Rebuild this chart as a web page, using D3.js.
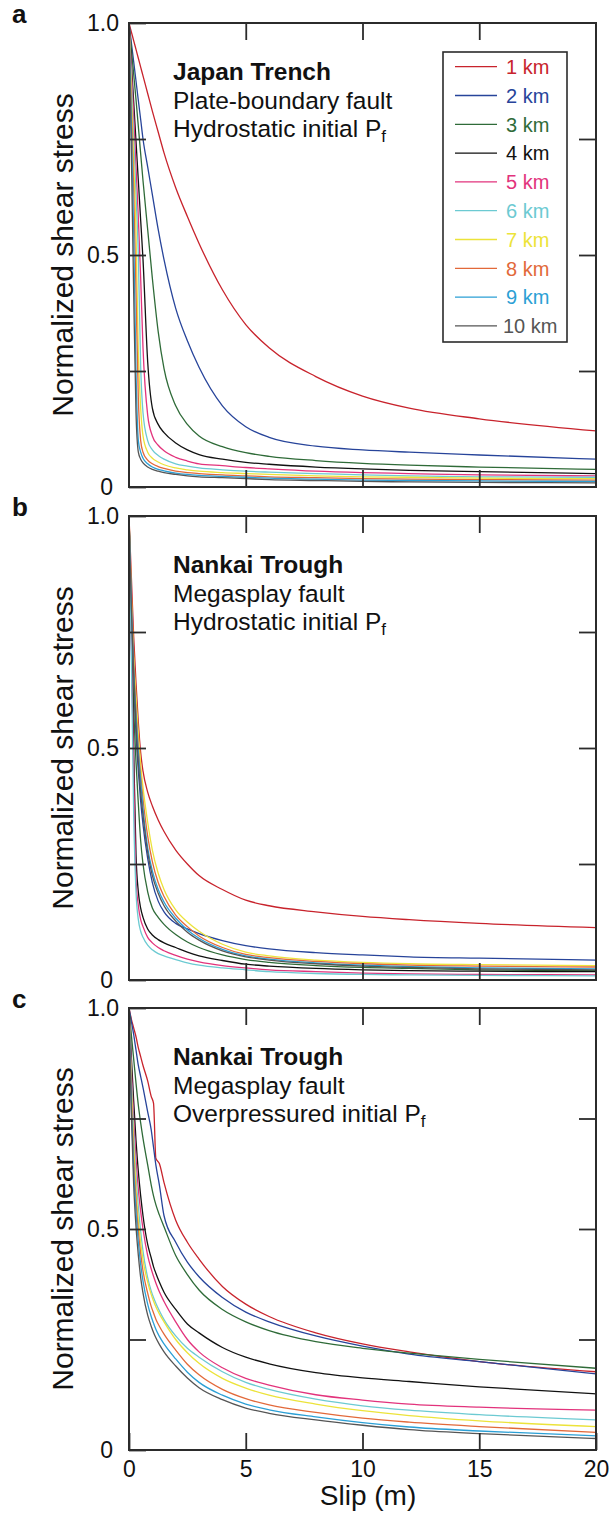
<!DOCTYPE html>
<html>
<head>
<meta charset="utf-8">
<script src="https://cdn.jsdelivr.net/npm/d3@7"></script>
<style>
  body { margin: 0; background: #fff; }
  svg { display: block; font-family: "Liberation Sans", Arial, Helvetica, sans-serif; }
</style>
</head>
<body>
<div id="chart"></div>
<script>
// depths (legend) and colours
const depths = ["1 km", "2 km", "3 km", "4 km", "5 km", "6 km", "7 km", "8 km", "9 km", "10 km"];
const colors = ["#c8232c", "#27449a", "#2f6b38", "#111111", "#e2337c", "#6ccad2", "#ece33a", "#e2693a", "#2b9fd5", "#555555"];

const xTicks = [0, 5, 10, 15, 20];
const yTicks = [0, 0.25, 0.5, 0.75, 1];
const yTickLabels = ["0", "", "0.5", "", "1.0"];

// slip (m) sample points
const slipAB = [0, 0.1, 0.2, 0.3, 0.4, 0.5, 0.6, 0.8, 1, 1.25, 1.5, 2, 2.5, 3, 4, 5, 6, 8, 10, 12, 15, 20];
const slipC = [0, 0.1, 0.2, 0.3, 0.4, 0.5, 0.6, 0.8, 0.95, 1.05, 1.15, 1.3, 1.5, 2, 2.5, 3, 4, 5, 6, 8, 10, 12, 15, 20];

// normalized shear stress, one row per depth (1 km ... 10 km)
const stressA = [
  [1, .981, .962, .943, .924, .905, .886, .848, .81, .765, .72, .645, .583, .525, .425, .35, .3, .238, .196, .17, .147, .121],
  [1, .958, .917, .875, .833, .792, .75, .69, .63, .555, .49, .385, .315, .258, .175, .13, .107, .088, .08, .075, .069, .06],
  [1, .945, .89, .835, .777, .718, .66, .555, .45, .335, .255, .175, .135, .11, .087, .074, .066, .057, .051, .047, .043, .038],
  [1, .915, .83, .745, .66, .575, .49, .27, .17, .135, .117, .095, .08, .07, .06, .053, .049, .043, .039, .036, .033, .029],
  [1, .9, .8, .69, .58, .45, .3, .155, .11, .09, .078, .064, .056, .05, .046, .042, .039, .034, .031, .029, .026, .024],
  [1, .88, .75, .63, .5, .26, .16, .1, .08, .068, .06, .05, .045, .041, .037, .034, .032, .029, .026, .024, .022, .021],
  [1, .85, .7, .55, .29, .17, .11, .075, .062, .054, .048, .041, .037, .034, .031, .029, .027, .024, .022, .021, .019, .018],
  [1, .82, .64, .42, .19, .1, .075, .058, .05, .044, .04, .034, .031, .029, .026, .024, .022, .02, .018, .017, .016, .015],
  [1, .78, .55, .25, .1, .075, .062, .05, .043, .038, .035, .03, .027, .025, .023, .021, .019, .017, .015, .014, .013, .012],
  [1, .72, .42, .16, .075, .06, .052, .043, .038, .034, .031, .027, .024, .022, .02, .018, .016, .014, .012, .011, .01, .009]
];

const stressB = [
  [1, .87, .74, .64, .555, .49, .45, .405, .375, .345, .32, .28, .25, .225, .195, .172, .16, .147, .137, .13, .122, .113],
  [1, .79, .64, .53, .45, .385, .335, .262, .21, .17, .147, .122, .11, .1, .085, .074, .067, .059, .054, .05, .047, .043],
  [1, .77, .59, .47, .38, .3, .25, .19, .155, .135, .12, .098, .082, .07, .054, .044, .038, .031, .027, .025, .022, .02],
  [1, .74, .5, .27, .19, .155, .135, .11, .097, .087, .08, .07, .06, .052, .042, .034, .03, .025, .022, .02, .019, .018],
  [1, .72, .45, .22, .16, .13, .115, .092, .08, .07, .063, .053, .045, .039, .031, .026, .022, .018, .015, .013, .012, .011],
  [1, .7, .36, .19, .13, .105, .092, .075, .065, .057, .052, .044, .037, .032, .026, .022, .018, .014, .012, .011, .01, .009],
  [1, .83, .7, .61, .53, .465, .415, .34, .28, .23, .195, .151, .125, .105, .077, .06, .052, .043, .038, .035, .033, .031],
  [1, .82, .68, .58, .5, .44, .39, .31, .255, .21, .18, .14, .115, .095, .07, .055, .048, .04, .035, .032, .03, .028],
  [1, .81, .67, .57, .49, .43, .37, .285, .235, .195, .168, .133, .108, .09, .066, .052, .045, .037, .032, .029, .026, .024],
  [1, .8, .66, .55, .47, .405, .355, .275, .225, .187, .16, .127, .103, .086, .063, .05, .043, .035, .03, .027, .024, .022]
];

const stressC = [
  [1, .975, .955, .935, .91, .89, .87, .835, .8, .785, .66, .648, .605, .52, .47, .432, .37, .33, .302, .265, .24, .222, .2, .177],
  [1, .97, .94, .905, .87, .845, .82, .765, .725, .685, .645, .6, .53, .47, .425, .392, .345, .312, .29, .258, .235, .217, .2, .172],
  [1, .94, .885, .83, .78, .74, .705, .645, .6, .575, .555, .532, .505, .44, .397, .362, .318, .29, .27, .245, .23, .219, .205, .185],
  [1, .89, .79, .7, .63, .575, .53, .465, .435, .415, .4, .38, .357, .318, .285, .265, .232, .21, .195, .175, .163, .155, .143, .127],
  [1, .86, .75, .66, .59, .54, .5, .44, .41, .393, .378, .358, .336, .29, .25, .222, .186, .162, .147, .125, .113, .104, .097, .09],
  [1, .84, .72, .62, .55, .495, .45, .39, .36, .345, .332, .315, .295, .258, .23, .21, .177, .153, .137, .115, .1, .09, .08, .068],
  [1, .82, .69, .59, .52, .47, .43, .38, .352, .337, .324, .308, .29, .25, .22, .196, .162, .14, .124, .104, .089, .078, .066, .053],
  [1, .8, .66, .565, .495, .445, .405, .355, .325, .31, .296, .28, .262, .226, .194, .17, .137, .116, .102, .085, .072, .063, .053, .04],
  [1, .78, .635, .54, .47, .42, .382, .33, .302, .287, .273, .257, .24, .206, .176, .153, .124, .104, .091, .075, .062, .052, .043, .032],
  [1, .76, .6, .505, .44, .39, .355, .305, .28, .266, .254, .239, .222, .19, .163, .141, .114, .095, .083, .068, .056, .046, .037, .026]
];

const width = 610;
const height = 1540;
const left = 129, right = 596;
const tickLen = 17;
const axisColor = "#2b2b2b";

const svg = d3.select("#chart")
  .append("svg")
  .attr("width", width)
  .attr("height", height);

const x = d3.scaleLinear().domain([0, 20]).range([left, right]);

const panels = [
  { letter: "a", top: 23, bottom: 487, slip: slipAB, values: stressA,
    title: "Japan Trench", lines: ["Plate-boundary fault", "Hydrostatic initial P"], legend: true },
  { letter: "b", top: 516, bottom: 980, slip: slipAB, values: stressB,
    title: "Nankai Trough", lines: ["Megasplay fault", "Hydrostatic initial P"] },
  { letter: "c", top: 1008, bottom: 1450, slip: slipC, values: stressC,
    title: "Nankai Trough", lines: ["Megasplay fault", "Overpressured initial P"], xLabels: true }
];

panels.forEach(p => {
  const y = d3.scaleLinear().domain([0, 1]).range([p.bottom, p.top]);
  const g = svg.append("g");

  // curves
  const line = d3.line()
    .x((d, i) => x(p.slip[i]))
    .y(d => y(d))
    .curve(d3.curveMonotoneX);

  g.selectAll("path.curve")
    .data(p.values)
    .enter()
    .append("path")
    .attr("class", "curve")
    .attr("d", d => line(d))
    .attr("fill", "none")
    .attr("stroke", (d, i) => colors[i])
    .attr("stroke-width", 1.3);

  // axes, ticks pointing inward on all four sides
  const styleAxis = sel => {
    sel.select(".domain").remove();
    sel.selectAll("line").attr("stroke", axisColor).attr("stroke-width", 1.8);
    sel.selectAll("text").attr("fill", "#111").style("font-size", "23px");
  };

  g.append("g")
    .attr("transform", `translate(0,${p.bottom})`)
    .call(d3.axisBottom(x).tickValues(p.xLabels ? xTicks : [5, 10, 15])
      .tickSize(-tickLen).tickPadding(11)
      .tickFormat(p.xLabels ? d3.format("d") : ""))
    .call(styleAxis);

  g.append("g")
    .attr("transform", `translate(0,${p.top})`)
    .call(d3.axisTop(x).tickValues([5, 10, 15]).tickSize(-tickLen).tickFormat(""))
    .call(styleAxis);

  g.append("g")
    .attr("transform", `translate(${left},0)`)
    .call(d3.axisLeft(y).tickValues(yTicks).tickSize(-tickLen).tickPadding(10)
      .tickFormat((d, i) => yTickLabels[i]))
    .call(styleAxis)
    .call(sel => sel.selectAll(".tick text").filter(d => d === 0).attr("x", -16));

  g.append("g")
    .attr("transform", `translate(${right},0)`)
    .call(d3.axisRight(y).tickValues([0.25, 0.5, 0.75]).tickSize(-tickLen).tickFormat(""))
    .call(styleAxis);

  g.append("rect")
    .attr("x", left)
    .attr("y", p.top)
    .attr("width", right - left)
    .attr("height", p.bottom - p.top)
    .attr("fill", "none")
    .attr("stroke", axisColor)
    .attr("stroke-width", 2);

  // y label
  g.append("text")
    .attr("transform", `translate(73,${(p.top + p.bottom) / 2}) rotate(-90)`)
    .attr("text-anchor", "middle")
    .style("font-size", "30px")
    .attr("fill", "#111")
    .text("Normalized shear stress");

  // panel letter
  g.append("text")
    .attr("x", 12)
    .attr("y", p.top)
    .style("font-size", "26px")
    .style("font-weight", "bold")
    .attr("fill", "#111")
    .text(p.letter);

  // annotation
  const ann = g.append("g").attr("transform", `translate(173,${p.top + 57})`);
  ann.append("text")
    .style("font-size", "24.5px")
    .style("font-weight", "bold")
    .attr("fill", "#111")
    .text(p.title);
  ann.append("text")
    .attr("y", 28.5)
    .style("font-size", "24.5px")
    .attr("fill", "#111")
    .text(p.lines[0]);
  const t3 = ann.append("text")
    .attr("y", 57)
    .style("font-size", "24.5px")
    .attr("fill", "#111")
    .text(p.lines[1]);
  t3.append("tspan")
    .attr("dy", 5)
    .style("font-size", "17px")
    .text("f");

  // legend
  if (p.legend) {
    const lg = g.append("g");
    lg.append("rect")
      .attr("x", 443).attr("y", 52)
      .attr("width", 124).attr("height", 290)
      .attr("fill", "#fff")
      .attr("stroke", axisColor)
      .attr("stroke-width", 1.6);
    const rows = lg.selectAll("g.row")
      .data(depths)
      .enter()
      .append("g")
      .attr("class", "row")
      .attr("transform", (d, i) => `translate(0,${66.7 + i * 28.8})`);
    rows.append("line")
      .attr("x1", 455).attr("x2", 497)
      .attr("stroke", (d, i) => colors[i])
      .attr("stroke-width", 1.3);
    rows.append("text")
      .attr("x", (d, i) => i === 9 ? 503 : 506)
      .attr("dy", "0.36em")
      .style("font-size", "20px")
      .attr("fill", (d, i) => colors[i])
      .text(d => d);
  }

  if (p.xLabels) {
    g.append("text")
      .attr("x", 368)
      .attr("y", 1505)
      .attr("text-anchor", "middle")
      .style("font-size", "28px")
      .attr("fill", "#111")
      .text("Slip (m)");
  }
});
</script>
</body>
</html>
